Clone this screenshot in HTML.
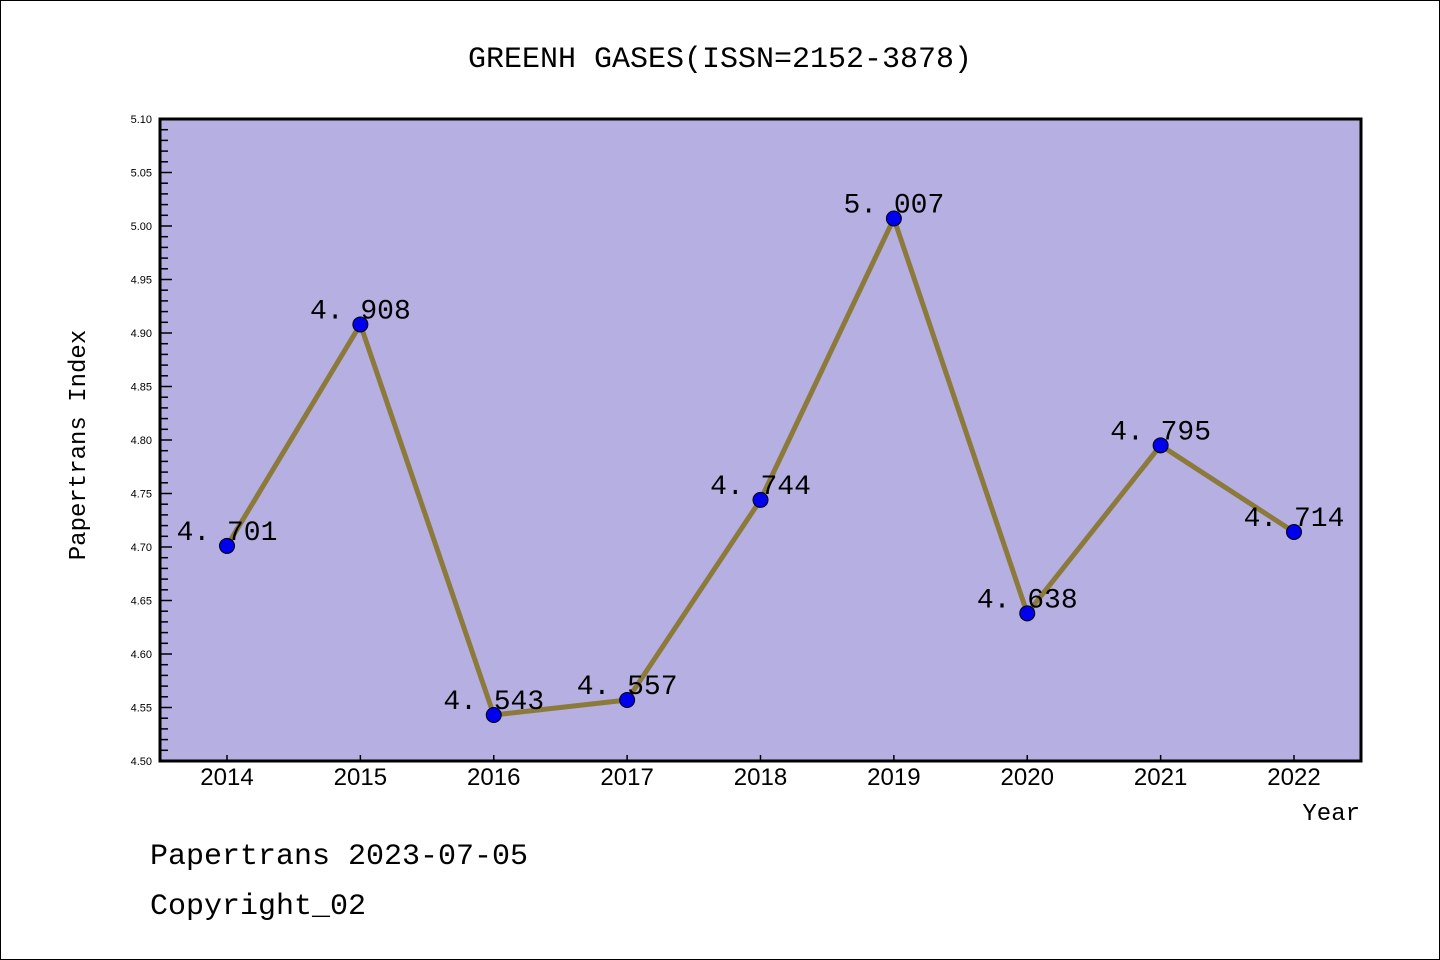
<!DOCTYPE html>
<html><head><meta charset="utf-8"><style>
html,body{margin:0;padding:0;background:#fff;}
svg{display:block;font-family:"Liberation Sans","WenQuanYi Zen Hei",sans-serif;}
</style></head><body>
<svg id="c" width="1440" height="960">
<rect x="0.5" y="0.5" width="1439" height="959" fill="#fff" stroke="#000"/>
<text x="720" y="67" text-anchor="middle" font-size="30" font-family="'WenQuanYi Zen Hei','Liberation Mono',monospace">GREENH GASES(ISSN=2152-3878)</text>
<rect x="160" y="119" width="1201" height="642" fill="#b5afe2"/>
<g id="g"></g>
<rect x="160" y="119" width="1201" height="642" fill="none" stroke="#000" stroke-width="3"/>
<text transform="translate(85,445) rotate(-90)" text-anchor="middle" font-size="24" font-family="'WenQuanYi Zen Hei','Liberation Mono',monospace">Papertrans Index</text>
<text x="1360" y="820" text-anchor="end" font-size="24" font-family="'WenQuanYi Zen Hei','Liberation Mono',monospace">Year</text>
<text x="150" y="864" font-size="30" font-family="'WenQuanYi Zen Hei','Liberation Mono',monospace">Papertrans 2023-07-05</text>
<text x="150" y="914" font-size="30" font-family="'WenQuanYi Zen Hei','Liberation Mono',monospace">Copyright_02</text>
</svg>
<script>
const years=[2014,2015,2016,2017,2018,2019,2020,2021,2022];
const values=[4.701,4.908,4.543,4.557,4.744,5.007,4.638,4.795,4.714];
const yTicks=[4.50,4.55,4.60,4.65,4.70,4.75,4.80,4.85,4.90,4.95,5.00,5.05,5.10];
const NS="http://www.w3.org/2000/svg";
const gEl=document.getElementById('g');
const yMin=4.5,yMax=5.1,plotTop=119,plotBot=761;
const yS=v=>plotBot-(v-yMin)/(yMax-yMin)*(plotBot-plotTop);
const xS=i=>227+i*(1294-227)/(years.length-1);
function mk(t,a){const e=document.createElementNS(NS,t);for(const k in a)e.setAttribute(k,a[k]);gEl.appendChild(e);return e;}
for(let k=0;k<=60;k++){const v=yMin+k*0.01;const major=k%5===0;
 const l=mk('line',{x1:160,x2:major?172:168,y1:yS(v),y2:yS(v),stroke:'#000','stroke-width':1.5});
 
 }
yTicks.forEach(v=>{const t=mk('text',{x:152,y:yS(v)+4,'text-anchor':'end','font-size':11});t.textContent=v.toFixed(2);
 
 });
years.forEach((yr,i)=>{const l=mk('line',{x1:xS(i),x2:xS(i),y1:plotBot,y2:plotBot-6,stroke:'#000','stroke-width':1.5});
 
 
 const t=mk('text',{x:xS(i),y:785,'text-anchor':'middle','font-size':24});t.textContent=yr;
 
 });
const pl=mk('polyline',{points:values.map((v,i)=>xS(i)+','+yS(v)).join(' '),fill:'none',stroke:'#8b7a3a','stroke-width':5,'stroke-linejoin':'round'});


values.forEach((v,i)=>{const c=mk('circle',{cx:xS(i),cy:yS(v),r:7.5,fill:'#0000ee',stroke:'#000','stroke-width':1});
 
 
 const t=mk('text',{x:xS(i),y:yS(v)-6,'text-anchor':'middle','font-size':28,'font-family':"'WenQuanYi Zen Hei','Liberation Mono',monospace"});t.textContent=v.toFixed(3).replace('.','. ');
 
 });
</script>
</body></html>
